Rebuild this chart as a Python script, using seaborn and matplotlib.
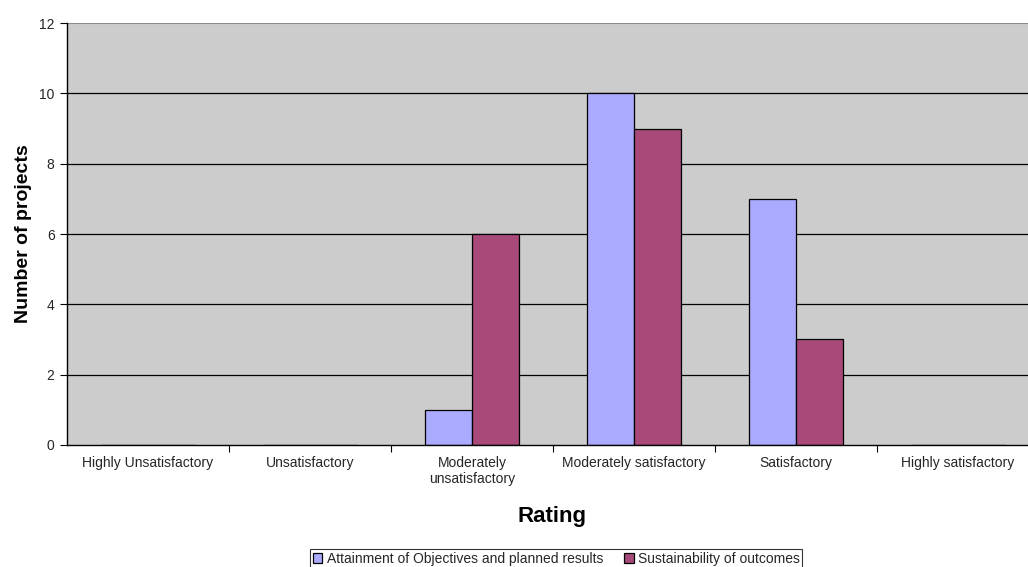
import matplotlib
matplotlib.use("Agg")
import matplotlib.pyplot as plt
import seaborn as sns
import pandas as pd
import numpy as np

categories = ["Highly Unsatisfactory", "Unsatisfactory", "Moderately\nunsatisfactory",
              "Moderately satisfactory", "Satisfactory", "Highly satisfactory"]
series_names = ["Attainment of Objectives and planned results", "Sustainability of outcomes"]
attainment = [0, 0, 1, 10, 7, 0]
sustainability = [0, 0, 6, 9, 3, 0]
y_ticks = [0, 2, 4, 6, 8, 10, 12]

df = pd.DataFrame({
    "Rating": categories * 2,
    "Series": [series_names[0]] * len(categories) + [series_names[1]] * len(categories),
    "Count": attainment + sustainability,
})

sns.set_theme(style="white")
plt.rcParams["font.family"] = ["Liberation Sans", "DejaVu Sans"]

fig = plt.figure(figsize=(10.28, 5.67), dpi=100)
# plot area runs past the right edge of the canvas
ax_w = 0.9455
ax = fig.add_axes([0.0652, 0.2152, ax_w, 0.7442])
ax.set_facecolor("#CCCCCC")

palette = ["#AAAAFF", "#A8497A"]
sns.barplot(data=df, x="Rating", y="Count", hue="Series", order=categories,
            hue_order=series_names, palette=palette, width=0.58, dodge=True,
            edgecolor="black", linewidth=0.9, saturation=1, errorbar=None, ax=ax,
            legend=True)

ax.set_ylim(0, 12)
ax.set_xlim(-0.5, len(categories) - 0.5)
ax.set_yticks(y_ticks)
ax.set_yticklabels([str(v) for v in y_ticks], fontsize=10)
for v in y_ticks[1:-1]:
    ax.axhline(v, color="black", linewidth=0.9, zorder=0.5)
ax.axhline(12, color="#8C8C8C", linewidth=1.5, zorder=0.5)

ax.set_xticks(range(len(categories)))
ax.set_xticklabels(categories, fontsize=10)
ax.set_xticks(np.arange(0.5, len(categories) - 0.5, 1), minor=True)
ax.tick_params(axis="x", which="major", length=0, pad=8)
ax.tick_params(axis="x", which="minor", length=5, width=0.8, color="black", direction="out", bottom=True)
ax.tick_params(axis="y", length=5, width=0.8, color="black", direction="out", left=True, pad=4)

for side in ["top", "right"]:
    ax.spines[side].set_visible(False)
for side in ["left", "bottom"]:
    ax.spines[side].set_color("black")
    ax.spines[side].set_linewidth(1.0)

ax.set_xlabel("Rating", fontsize=16, fontweight="bold", color="black")
# centre the axis title on the visible part of the canvas
ax.xaxis.set_label_coords((552 - 67) / (ax_w * 1028), -0.145)
ax.set_ylabel("Number of projects", fontsize=14, fontweight="bold", color="black")
ax.yaxis.set_label_coords(-0.036, 0.5)

handles, labels = ax.get_legend_handles_labels()
ax.get_legend().remove()
leg = fig.legend(handles, labels, loc="upper center", bbox_to_anchor=(0.541, 0.031),
                 ncol=2, fontsize=10, frameon=True, fancybox=False, edgecolor="black",
                 handlelength=0.7, handleheight=0.7, handletextpad=0.3, columnspacing=1.5,
                 borderpad=0.2, borderaxespad=0)
leg.get_frame().set_linewidth(0.8)

fig.savefig("out.png", dpi=100)
